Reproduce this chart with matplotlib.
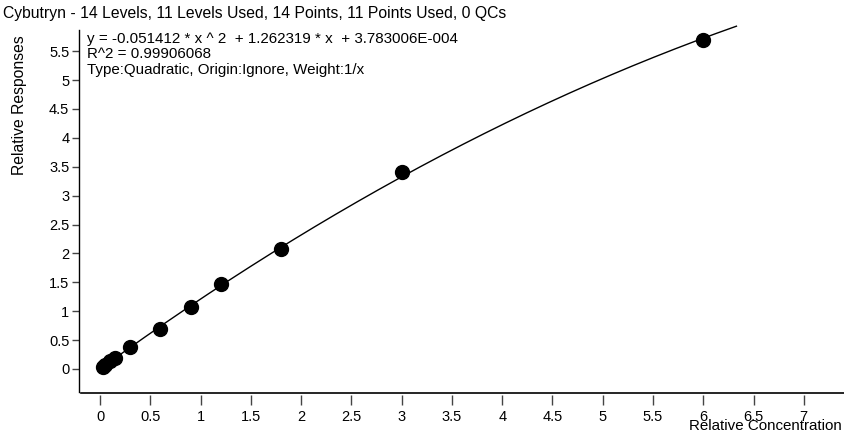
import numpy as np
import matplotlib
matplotlib.use('Agg')
import matplotlib.pyplot as plt

plt.rcParams['font.family'] = ['Liberation Sans', 'DejaVu Sans']

# calibration points (relative concentration, relative response)
conc = [0.025, 0.05, 0.1, 0.15, 0.3, 0.6, 0.9, 1.2, 1.8, 3.0, 6.0]
resp = [0.03, 0.065, 0.13, 0.19, 0.38, 0.69, 1.07, 1.47, 2.08, 3.40, 5.69]

# quadratic fit coefficients
a, b, c = -0.051412, 1.262319, 3.783006E-004
curve_end = 6.33

title = 'Cybutryn - 14 Levels, 11 Levels Used, 14 Points, 11 Points Used, 0 QCs'
info_lines = ['y = -0.051412 * x ^ 2  + 1.262319 * x  + 3.783006E-004',
              'R^2 = 0.99906068',
              'Type:Quadratic, Origin:Ignore, Weight:1/x']
xticks = [0, 0.5, 1, 1.5, 2, 2.5, 3, 3.5, 4, 4.5, 5, 5.5, 6, 6.5, 7]
yticks = [0, 0.5, 1, 1.5, 2, 2.5, 3, 3.5, 4, 4.5, 5, 5.5]

W, H = 845, 433
fig = plt.figure(figsize=(W / 100, H / 100), dpi=100)
ax = fig.add_axes([79 / W, (H - 395) / H, 1 - 79 / W, (395 - 30) / H])

xc = np.linspace(conc[0], curve_end, 300)
ax.plot(xc, a * xc**2 + b * xc + c, color='black', lw=1.0, clip_on=False)
ax.plot(conc, resp, 'o', color='black', ms=10, clip_on=False)

ax.set_xlim(-0.21, 7.41)
ax.set_ylim((369 - 395) / 57.8, (369 - 30) / 57.8)

ax.set_xticks(xticks)
ax.set_xticklabels([f'{t:g}' for t in xticks])
ax.set_yticks(yticks)
ax.set_yticklabels([f'{t:g}' for t in yticks])

for s in ['top', 'right', 'bottom']:
    ax.spines[s].set_visible(False)
ax.spines['left'].set_linewidth(1.0)
ax.spines['left'].set_bounds(ax.get_ylim()[0] + 3 / 57.8, ax.get_ylim()[1])
# x axis line sits a little above the ticks
ax.plot([0.003, 1], [2 / 365, 2 / 365], transform=ax.transAxes,
        color='black', lw=1.2, clip_on=False)

ax.tick_params(axis='x', direction='out', length=7, width=1, pad=4,
               labelsize=10.5, color='#444444')
ax.tick_params(axis='y', direction='out', length=5, width=1, pad=2,
               labelsize=10.5, color='#444444')

fig.text(3 / W, 1 - 6 / H, title, fontsize=11.3, ha='left', va='top')
for i, line in enumerate(info_lines):
    fig.text(87 / W, 1 - (39 + 15.5 * i) / H, line, fontsize=10.9,
             ha='left', va='center')

fig.text(19.5 / W, 1 - 105 / H, 'Relative Responses', rotation=90,
         fontsize=11.3, ha='center', va='center')
fig.text(842 / W, 1 - 426 / H, 'Relative Concentration',
         fontsize=10.9, ha='right', va='center')

fig.savefig('out.png', dpi=100)
